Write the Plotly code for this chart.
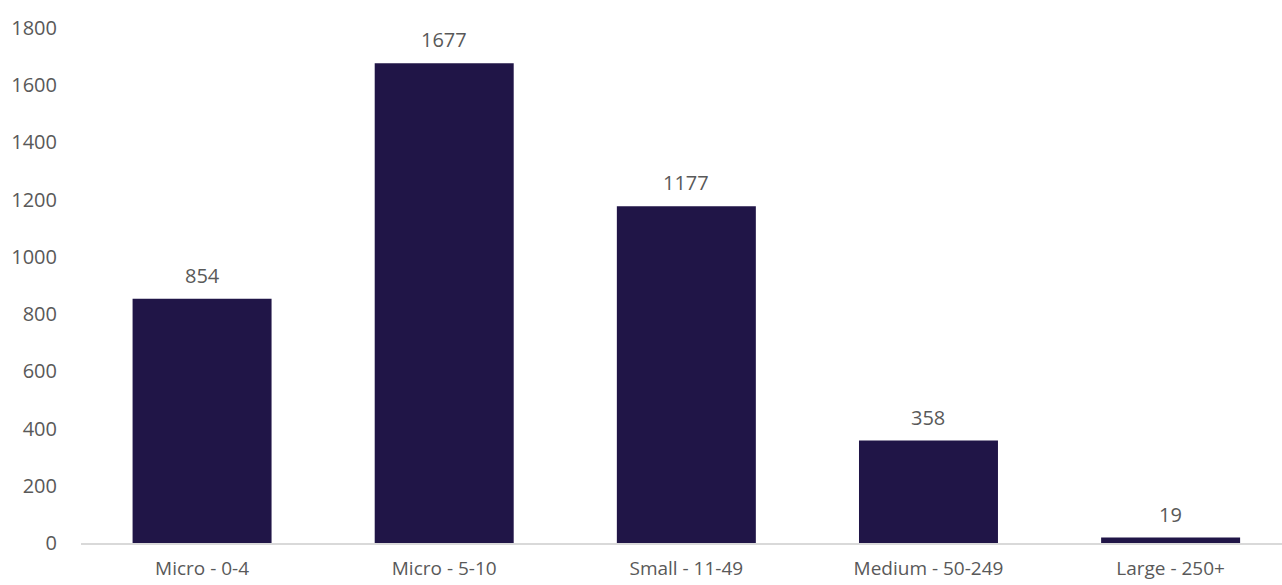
import plotly.graph_objects as go

categories = ["Micro - 0-4", "Micro - 5-10", "Small - 11-49", "Medium - 50-249", "Large - 250+"]
values = [854, 1677, 1177, 358, 19]
y_ticks = [0, 200, 400, 600, 800, 1000, 1200, 1400, 1600, 1800]

BAR = "#201547"
TXT = "#595959"
FONT = "Open Sans"
FS = 20

fig = go.Figure()
fig.add_trace(go.Bar(x=categories, y=values, marker=dict(color=BAR, line=dict(width=0)),
                     hoverinfo="x+y"))

for c, v in zip(categories, values):
    fig.add_annotation(x=c, y=v, text=str(v), showarrow=False, yanchor="bottom",
                       yshift=8, font=dict(family=FONT, size=FS, color=TXT))

fig.update_layout(
    width=1282, height=585,
    margin=dict(l=81, r=0, t=28, b=42, autoexpand=False),
    paper_bgcolor="white", plot_bgcolor="white",
    bargap=0.426,
    showlegend=False,
    font=dict(family=FONT, size=FS, color=TXT),
)
fig.update_xaxes(range=[-0.5, 4.46], showgrid=False, showline=True, linecolor="#d9d9d9",
                 linewidth=1.5, ticks="outside", ticklen=7, tickcolor="rgba(0,0,0,0)",
                 tickfont=dict(family=FONT, size=19, color=TXT), zeroline=False,
                 automargin=False)
fig.update_yaxes(range=[0, 1800], tickvals=y_ticks, showgrid=False, showline=False,
                 zeroline=False, ticks="outside", ticklen=19, tickcolor="rgba(0,0,0,0)",
                 tickfont=dict(family=FONT, size=FS, color=TXT), automargin=False)

fig.write_html("out.html")
